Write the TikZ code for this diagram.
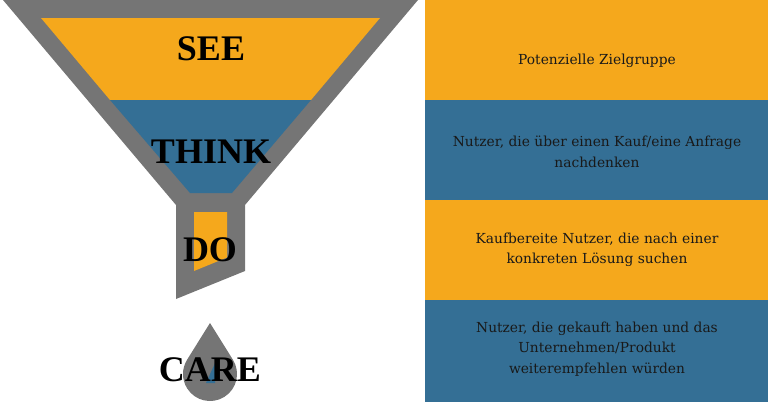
\documentclass[tikz,border=0pt]{standalone}
\usepackage{fontspec}
\setmainfont{DejaVu Serif}
\newfontfamily\headfont{Liberation Serif}
\definecolor{funnelorange}{HTML}{F5A81C}
\definecolor{funnelblue}{HTML}{346F95}
\definecolor{funnelgray}{HTML}{757575}
\tikzset{
  stage/.style={font=\headfont\bfseries\fontsize{36}{36}\selectfont,text=black,inner sep=0pt},
  panel/.style={minimum width=343pt,minimum height=100pt,inner sep=0pt,anchor=north west},
  paneltext/.style={align=center,text=black!90,font=\fontsize{13.8}{20.5}\selectfont},
}
\begin{document}
\begin{tikzpicture}[x=1pt,y=-1pt]
\useasboundingbox (0,0) rectangle (768,402);
% funnel
\fill[funnelgray] (3,0) -- (418,0) -- (245,205) -- (245,271) -- (176,299) -- (176,205) -- cycle;
\fill[funnelorange] (41,18) -- (380,18) -- (311,100) -- (110,100) -- cycle;
\fill[funnelblue] (110,100) -- (311,100) -- (232,193) -- (190,193) -- cycle;
\fill[funnelorange] (194,212) -- (227,212) -- (227,257.5) -- (194,271) -- cycle;
% drop
\fill[funnelgray] (210,323) -- (232.9,359.7) arc[start angle=-32,end angle=212,radius=27] -- cycle;
\fill[funnelblue] (216,361) -- (215,383) -- (206,383) -- cycle;
\node[stage] (see) at (211,49) {SEE};
\node[stage] (think) at (211,152) {THINK};
\node[stage] (do) at (210,250) {DO};
\node[stage] (care) at (210,370) {CARE};
% right column
\node[panel,fill=funnelorange] (p1) at (425,0) {};
\node[panel,fill=funnelblue] (p2) at (425,100) {};
\node[panel,fill=funnelorange] (p3) at (425,200) {};
\node[panel,fill=funnelblue,minimum height=102pt] (p4) at (425,300) {};
\node[paneltext] (t1) at (597,61) {Potenzielle Zielgruppe};
\node[paneltext] (t2) at (597,152) {Nutzer, die über einen Kauf/eine Anfrage\\nachdenken};
\node[paneltext] (t3) at (597,250) {Kaufbereite Nutzer, die nach einer\\konkreten Lösung suchen};
\node[paneltext] (t4) at (597,349) {Nutzer, die gekauft haben und das\\Unternehmen/Produkt\\weiterempfehlen würden};
\end{tikzpicture}
\end{document}
